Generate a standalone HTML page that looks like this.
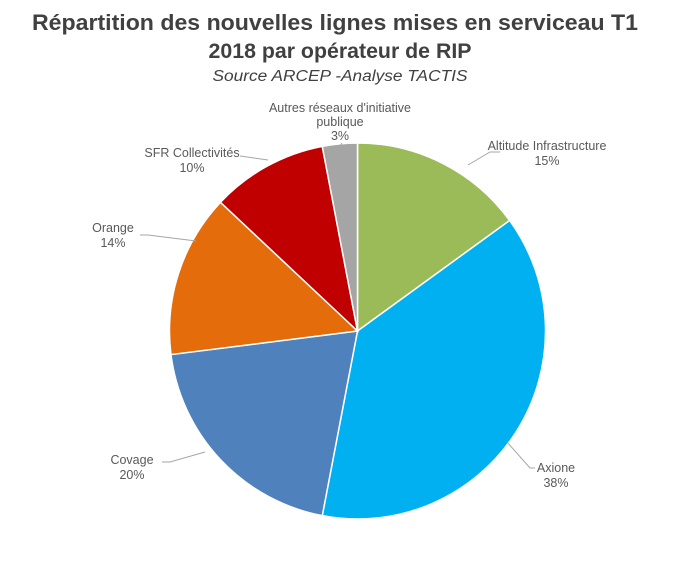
<!DOCTYPE html>
<html><head><meta charset="utf-8"><style>
body{margin:0;background:#fff;width:680px;height:556px;overflow:hidden;font-family:"Liberation Sans",sans-serif}
</style></head><body>
<svg id="s" width="680" height="556" xmlns="http://www.w3.org/2000/svg">
<text x="335" y="30" text-anchor="middle" font-size="22" font-weight="bold" fill="#404040" font-family="Liberation Sans, sans-serif" textLength="606" lengthAdjust="spacingAndGlyphs">Répartition des nouvelles lignes mises en serviceau T1</text>
<text x="340" y="58" text-anchor="middle" font-size="21.5" font-weight="bold" fill="#404040" font-family="Liberation Sans, sans-serif" textLength="263" lengthAdjust="spacingAndGlyphs">2018 par opérateur de RIP</text>
<text x="340" y="81" text-anchor="middle" font-size="15.5" font-style="italic" fill="#404040" font-family="Liberation Sans, sans-serif" textLength="255" lengthAdjust="spacingAndGlyphs">Source ARCEP -Analyse TACTIS</text>
<g id="pie"></g>
<g fill="#595959" font-size="12.5" font-family="Liberation Sans, sans-serif" text-anchor="middle">
<text x="340" y="112">Autres réseaux d'initiative</text>
<text x="340" y="126">publique</text>
<text x="340" y="140">3%</text>
<text x="547" y="150">Altitude Infrastructure</text>
<text x="547" y="165">15%</text>
<text x="192" y="157">SFR Collectivités</text>
<text x="192" y="172">10%</text>
<text x="113" y="232">Orange</text>
<text x="113" y="247">14%</text>
<text x="132" y="464">Covage</text>
<text x="132" y="479">20%</text>
<text x="556" y="472">Axione</text>
<text x="556" y="487">38%</text>
</g>
<g stroke="#a6a6a6" fill="none" stroke-width="1">
<polyline points="342,143 340,146"/>
<polyline points="468,165 490,152 500,152"/>
<polyline points="268,160 240,156"/>
<polyline points="196,241 148,235 140,235"/>
<polyline points="205,452 170,462 162,462"/>
<polyline points="507,442 530,468 535,468"/>
</g>
</svg>
<script>
var cx=357.5,cy=331,r=188;
var d=[[15,"#9BBB59"],[38,"#00B0F0"],[20,"#4F81BD"],[14,"#E46C0A"],[10,"#C00000"],[3,"#A5A5A5"]];
var a=0,g=document.getElementById("pie"),h="";
d.forEach(function(s){var a1=a+s[0]/100*2*Math.PI;
var x0=cx+r*Math.sin(a),y0=cy-r*Math.cos(a),x1=cx+r*Math.sin(a1),y1=cy-r*Math.cos(a1);
h+='<path d="M'+cx+','+cy+' L'+x0+','+y0+' A'+r+','+r+' 0 '+(a1-a>Math.PI?1:0)+' 1 '+x1+','+y1+' Z" fill="'+s[1]+'" stroke="#fff" stroke-width="1.5"/>';a=a1;});
g.innerHTML=h;
</script>
</body></html>
